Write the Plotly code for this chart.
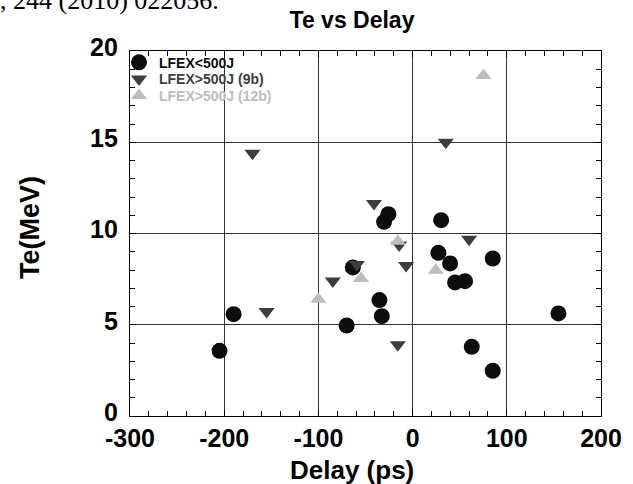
import plotly.graph_objects as go

# ---- data ----
circ_x = [-205, -190, -70, -63.5, -35.2, -32.7, -30.3, -25.7, 27.4, 30.3, 39.8, 45.1, 55.7, 62.8, 85.1, 85.1, 154.8]
circ_y = [3.57, 5.58, 4.96, 8.14, 6.35, 5.47, 10.64, 11.06, 8.94, 10.73, 8.36, 7.32, 7.39, 3.79, 8.63, 2.48, 5.62]

down_x = [-170, -155, -84.7, -59.2, -41, -14.3, -15.7, -6.9, 35.2, 60]
down_y = [14.4, 5.72, 7.4, 8.3, 11.65, 9.37, 3.9, 8.24, 15.0, 9.68]

up_x = [-100, -54.7, -15.7, 24.6, 75.2]
up_y = [6.4, 7.53, 9.57, 7.98, 18.66]

names = ["LFEX&lt;500J", "LFEX&gt;500J (9b)", "LFEX&gt;500J (12b)"]
x_ticks = [-300, -200, -100, 0, 100, 200]
y_ticks = [0, 5, 10, 15, 20]

C_CIRC = "#0d0d0d"
C_DOWN = "#3d3d3d"
C_UP = "#bdbdbd"
FONT = "Liberation Sans"

W, H = 633, 484
L, R, T, B = 130, 32, 51, 68
pw, ph = W - L - R, H - T - B


def px2paper_x(px):
    return (px - L) / pw


def px2paper_y(py):
    return (H - B - py) / ph


fig = go.Figure()
fig.add_trace(go.Scatter(x=circ_x, y=circ_y, mode="markers", legend="legend",
                         name=f"<span style='color:{C_CIRC}'>{names[0]}</span>",
                         marker=dict(symbol="circle", size=16, color=C_CIRC, line=dict(width=0))))
fig.add_trace(go.Scatter(x=down_x, y=down_y, mode="markers", legend="legend2",
                         name=f"<span style='color:{C_DOWN}'>{names[1]}</span>",
                         marker=dict(symbol="triangle-down", size=14, color=C_DOWN, line=dict(width=0))))
fig.add_trace(go.Scatter(x=up_x, y=up_y, mode="markers", legend="legend3",
                         name=f"<span style='color:{C_UP}'>{names[2]}</span>",
                         marker=dict(symbol="triangle-up", size=14, color=C_UP, line=dict(width=0))))

axis_common = dict(
    showgrid=True, gridcolor="#333333", gridwidth=1.2,
    zeroline=False, showline=True, linecolor="black", linewidth=1.2, mirror="ticks",
    ticks="inside", ticklen=6, tickcolor="black", tickwidth=1,
    tickfont=dict(family=FONT, size=25, color="black", weight="bold"),
)

fig.update_xaxes(range=[-300, 200], tickvals=x_ticks, ticktext=[str(v) for v in x_ticks],
                 minor=dict(dtick=20, ticks="inside", ticklen=5, tickcolor="black", showgrid=False),
                 ticklabelstandoff=0, **axis_common)
fig.update_yaxes(range=[0, 20], tickvals=y_ticks, ticktext=[str(v) for v in y_ticks],
                 minor=dict(dtick=1, ticks="inside", ticklen=5, tickcolor="black", showgrid=False),
                 ticklabelstandoff=6, ticklabelshift=-4, **axis_common)

legend_common = dict(xanchor="left", yanchor="top", bgcolor="rgba(0,0,0,0)", borderwidth=0,
                     font=dict(family=FONT, size=14, color="black", weight="bold"))
row_centers = [61.7, 78.3, 95.0]
LEG_X = px2paper_x(119)

fig.update_layout(
    width=W, height=H,
    margin=dict(l=L, r=R, t=T, b=B, pad=0),
    paper_bgcolor="white", plot_bgcolor="white",
    title=dict(text="Te vs Delay", x=352 / W, y=1 - 19.5 / H, xanchor="center", yanchor="middle",
               font=dict(family=FONT, size=23, color="black", weight="bold")),
    showlegend=True,
    legend=dict(x=LEG_X, y=px2paper_y(row_centers[0] - 15), **legend_common),
    legend2=dict(x=LEG_X, y=px2paper_y(row_centers[1] - 15), **legend_common),
    legend3=dict(x=LEG_X, y=px2paper_y(row_centers[2] - 15), **legend_common),
    annotations=[
        dict(text="Delay (ps)", xref="paper", yref="paper", x=px2paper_x(351.5), y=px2paper_y(470),
             xanchor="center", yanchor="middle", showarrow=False,
             font=dict(family=FONT, size=26, color="black", weight="bold")),
        dict(text="Te(MeV)", xref="paper", yref="paper", x=px2paper_x(30), y=px2paper_y(228),
             xanchor="center", yanchor="middle", showarrow=False, textangle=-90,
             font=dict(family=FONT, size=27, color="black", weight="bold")),
        dict(text=", 244 (2010) 022056.", xref="paper", yref="paper", x=px2paper_x(-2), y=px2paper_y(0.7),
             xanchor="left", yanchor="middle", showarrow=False,
             font=dict(family="Liberation Serif", size=26, color="black")),
    ],
)

fig.write_html("out.html", config={"displayModeBar": False},
               post_script="document.body.style.margin='0';document.body.style.padding='0';")
